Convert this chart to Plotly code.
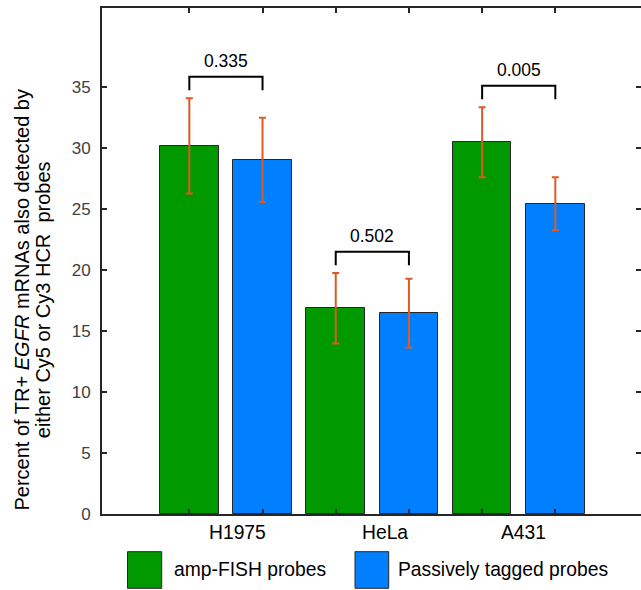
import plotly.graph_objects as go

# ---- data ----
cells = ["H1975", "HeLa", "A431"]
amp_fish = [30.15, 16.85, 30.45]
amp_fish_err = [3.9, 2.88, 2.87]
passive = [29.0, 16.45, 25.4]
passive_err = [3.45, 2.82, 2.17]
p_values = ["0.335", "0.502", "0.005"]
series_names = ["amp-FISH probes", "Passively tagged probes"]
y_ticks = [0, 5, 10, 15, 20, 25, 30, 35]
y_title_lines = ["Percent of TR+ <i>EGFR</i> mRNAs also detected by",
                 "either Cy5 or Cy3 HCR&nbsp; probes"]

# label pixel offsets (layout only)
label_xshift = [12, 13, 5]

GREEN = "#009900"
BLUE = "#0080FF"
ERR = "#DD5A24"
AX = "#262626"
FONT = "Liberation Sans, Arial, Helvetica, sans-serif"

W, H = 641, 590
L, T, B, R = 102, 8, 76, 0
pw, ph = W - L - R, H - T - B

x_amp = [2 * i + 1 for i in range(len(cells))]
x_pas = [2 * i + 2 for i in range(len(cells))]

fig = go.Figure()
fig.add_trace(go.Bar(
    x=x_amp, y=amp_fish, width=0.8, name=series_names[0],
    marker=dict(color=GREEN, line=dict(color=AX, width=1)),
    error_y=dict(type="data", array=amp_fish_err, color=ERR, thickness=2, width=3.5),
    showlegend=False,
))
fig.add_trace(go.Bar(
    x=x_pas, y=passive, width=0.8, name=series_names[1],
    marker=dict(color=BLUE, line=dict(color=AX, width=1)),
    error_y=dict(type="data", array=passive_err, color=ERR, thickness=2, width=3.5),
    showlegend=False,
))
# invisible trace to carry right-side ticks
fig.add_trace(go.Scatter(x=[1], y=[0], yaxis="y2", mode="markers",
                         marker=dict(opacity=0), showlegend=False, hoverinfo="skip"))

# significance brackets and category labels
for i in range(len(cells)):
    top = max(amp_fish[i] + amp_fish_err[i], passive[i] + passive_err[i])
    yb = top + 1.75
    leg = 1.1
    fig.add_shape(type="path",
                  path=f"M {x_amp[i]},{yb-leg} L {x_amp[i]},{yb} L {x_pas[i]},{yb} L {x_pas[i]},{yb-leg}",
                  xref="x", yref="y", line=dict(color="black", width=2))
    fig.add_annotation(x=(x_amp[i] + x_pas[i]) / 2, y=yb, yshift=16, text=p_values[i],
                       showarrow=False, font=dict(size=17.5, color="black", family=FONT),
                       xref="x", yref="y", yanchor="middle")
    fig.add_annotation(x=(x_amp[i] + x_pas[i]) / 2, y=0, yshift=-18, xshift=label_xshift[i],
                       text=cells[i], showarrow=False,
                       font=dict(size=19.3, color="black", family=FONT),
                       xref="x", yref="y", yanchor="middle")

# legend (drawn manually)
def px_x(p):
    return (p - L) / pw

def px_y(p):
    return (H - B - p) / ph

leg_items = [(127.5, 161.7, 172, GREEN), (355, 388.7, 395.5, BLUE)]
for (x0, x1, xt, col), name in zip(leg_items, series_names):
    fig.add_shape(type="rect", xref="paper", yref="paper",
                  x0=px_x(x0), x1=px_x(x1), y0=px_y(588.3), y1=px_y(551.7),
                  fillcolor=col, line=dict(color=AX, width=1))
    fig.add_annotation(xref="paper", yref="paper", x=px_x(xt), y=px_y(569),
                       xanchor="left", yanchor="middle", text=name, showarrow=False,
                       font=dict(size=19.3, color="black", family=FONT))

# y axis title (two centred lines)
for xc, line in zip([21.5, 43.2], y_title_lines):
    fig.add_annotation(xref="paper", yref="paper", x=px_x(xc), y=px_y(300),
                       text=line, textangle=-90, showarrow=False,
                       xanchor="center", yanchor="middle",
                       font=dict(size=20, color="black", family=FONT))

xr = [-0.193, -0.193 + pw / 73.2]
fig.update_layout(
    width=W, height=H,
    margin=dict(l=L, r=R, t=T, b=B, pad=0),
    plot_bgcolor="white", paper_bgcolor="white",
    bargap=0,
    font=dict(family=FONT),
    xaxis=dict(range=xr, tickvals=x_amp + x_pas, showticklabels=False,
               ticks="inside", ticklen=5, tickwidth=1.5, tickcolor=AX,
               showline=True, linecolor=AX, linewidth=2, mirror="ticks",
               showgrid=False, zeroline=False, fixedrange=True),
    yaxis=dict(range=[0, 41.44], tickvals=y_ticks, ticks="inside", ticklen=5,
               tickwidth=1.5, tickcolor=AX, showline=True, linecolor=AX, linewidth=2,
               showgrid=False, zeroline=False,
               tickfont=dict(size=17, color="#404040", family=FONT),
               ticklabelstandoff=6),
    yaxis2=dict(range=[0, 41.44], tickvals=y_ticks, ticks="inside", ticklen=5,
                tickwidth=1.5, tickcolor=AX, showline=False, showticklabels=False,
                showgrid=False, zeroline=False, overlaying="y", side="right"),
)

fig.write_html("out.html")
